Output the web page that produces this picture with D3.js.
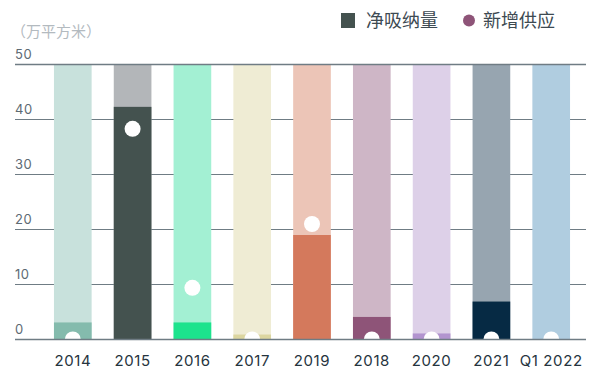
<!DOCTYPE html>
<html>
<head>
<meta charset="utf-8">
<script src="https://cdn.jsdelivr.net/npm/d3@7"></script>
<style>
  body { margin: 0; background: #fff; }
  svg { display: block; font-family: "Noto Sans CJK SC", "Noto Sans", sans-serif; }
</style>
</head>
<body>
<svg id="chart" width="600" height="379"></svg>
<script>
// data
const years = ['2014', '2015', '2016', '2017', '2019', '2018', '2020', '2021', 'Q1 2022'];
const absorption = [3.1, 42.3, 3.1, 0.9, 19.0, 4.1, 1.1, 6.9, 0];
const supply = [0, 38.3, 9.4, 0, 21.0, 0, 0, 0, 0];
const yTicks = [0, 10, 20, 30, 40, 50];
const bgColors = ['#c8e1dc', '#b3b6b9', '#a3f0d3', '#efecd4', '#ecc5b7', '#ceb6c6', '#ddd0e8', '#97a5b0', '#b0cde0'];
const fgColors = ['#84bbad', '#44524f', '#1de38d', '#dcd6a0', '#d4795c', '#8e5478', '#b294cf', '#062a44', '#8fb3cb'];

const svg = d3.select('#chart');

// scales
const x = d3.scaleBand()
    .domain(years)
    .range([42, 582])
    .paddingInner(0.37)
    .paddingOuter(0.2);

const y = d3.scaleLinear()
    .domain([0, 50])
    .range([339.5, 64.5]);

const gridColor = '#6f7c84';
const numFont = 'Inter, "Noto Sans", sans-serif';

// grid lines (behind bars)
svg.append('g')
  .selectAll('line')
  .data(yTicks)
  .join('line')
    .attr('x1', 15)
    .attr('x2', 586)
    .attr('y1', d => y(d))
    .attr('y2', d => y(d))
    .attr('stroke', gridColor)
    .attr('stroke-width', 1);

// tick labels
svg.append('g')
  .selectAll('text')
  .data(yTicks)
  .join('text')
    .attr('x', 15)
    .attr('y', d => y(d) - 6)
    .attr('fill', '#5d6a73')
    .style('font-size', '13px')
    .style('font-family', numFont)
    .style('letter-spacing', '0.5px')
    .text(d => d);

// background bars
svg.append('g')
  .selectAll('rect')
  .data(years)
  .join('rect')
    .attr('x', d => x(d))
    .attr('width', x.bandwidth())
    .attr('y', y(50))
    .attr('height', y(0) - y(50))
    .attr('fill', (d, i) => bgColors[i]);

// absorption bars
svg.append('g')
  .selectAll('rect')
  .data(years)
  .join('rect')
    .attr('x', d => x(d))
    .attr('width', x.bandwidth())
    .attr('y', (d, i) => y(absorption[i]))
    .attr('height', (d, i) => y(0) - y(absorption[i]))
    .attr('fill', (d, i) => fgColors[i]);

// supply dots
svg.append('g')
  .selectAll('circle')
  .data(years)
  .join('circle')
    .attr('cx', d => x(d) + x.bandwidth() / 2)
    .attr('cy', (d, i) => y(supply[i]))
    .attr('r', 8)
    .attr('fill', '#fff');

// cover anything below zero line
svg.append('rect')
    .attr('x', 0).attr('y', y(0))
    .attr('width', 600).attr('height', 379 - y(0))
    .attr('fill', '#fff');

// top and bottom lines over bars
svg.append('g')
  .selectAll('line')
  .data([0, 50])
  .join('line')
    .attr('x1', 15)
    .attr('x2', 586)
    .attr('y1', d => y(d))
    .attr('y2', d => y(d))
    .attr('stroke', gridColor)
    .attr('stroke-width', 1.5);

// x labels
svg.append('g')
  .selectAll('text')
  .data(years)
  .join('text')
    .attr('x', d => x(d) + x.bandwidth() / 2)
    .attr('y', 366)
    .attr('text-anchor', 'middle')
    .attr('fill', '#26343e')
    .style('font-size', '15px')
    .style('font-family', numFont)
    .style('letter-spacing', '0.6px')
    .text(d => d);

// unit label
svg.append('text')
    .attr('x', 11)
    .attr('y', 37)
    .attr('fill', '#b3babf')
    .style('font-size', '15px')
    .text('（万平方米）');

// legend
const legend = svg.append('g');
legend.append('rect')
    .attr('x', 341).attr('y', 13)
    .attr('width', 14).attr('height', 15)
    .attr('fill', '#44524f');
legend.append('text')
    .attr('x', 366).attr('y', 27)
    .attr('fill', '#3d4a52')
    .style('font-size', '18px')
    .text('净吸纳量');
legend.append('circle')
    .attr('cx', 469).attr('cy', 20.5)
    .attr('r', 6)
    .attr('fill', '#8e5478');
legend.append('text')
    .attr('x', 483).attr('y', 27)
    .attr('fill', '#3d4a52')
    .style('font-size', '18px')
    .text('新增供应');
</script>
</body>
</html>
